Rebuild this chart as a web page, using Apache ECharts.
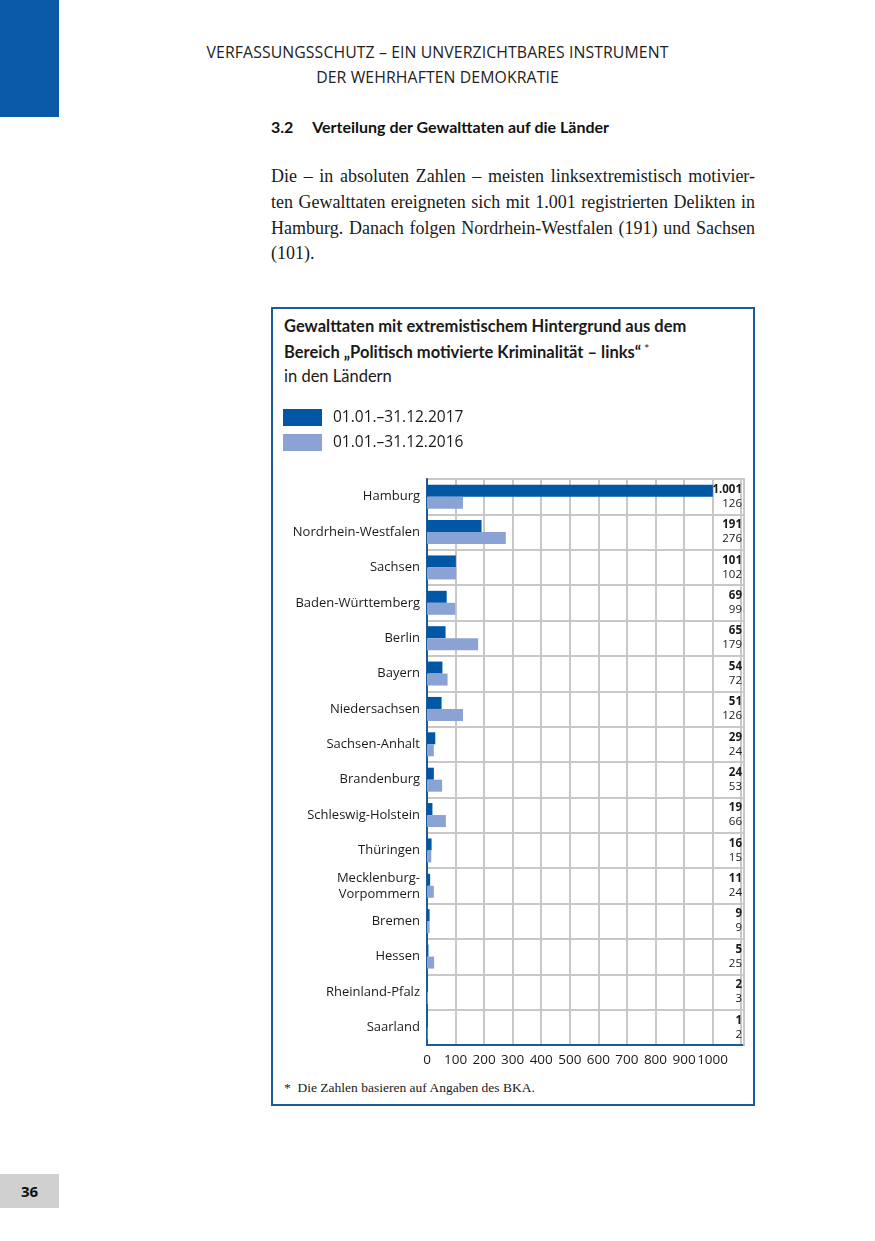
<!DOCTYPE html>
<html>
<head>
<meta charset="utf-8">
<script src="https://cdn.jsdelivr.net/npm/echarts@6/dist/echarts.min.js"></script>
<style>
  html, body { margin:0; padding:0; background:#fff; }
  body { width:875px; height:1241px; position:relative; overflow:hidden; font-family:"Open Sans", "Noto Sans", sans-serif; color:#1a1a1a; }
  .abs { position:absolute; }
  #bluebar { left:0; top:0; width:59px; height:117px; background:#0a5aa8; }
  .hdr { left:0; width:875px; text-align:center; font-family:"Open Sans", sans-serif; font-size:15.8px; letter-spacing:0.1px; color:#222; }
  #sub { left:271px; top:117px; font-family:Lato, sans-serif; font-size:16px; font-weight:bold; color:#111; }
  .para { left:271px; width:484px; font-family:"Liberation Serif", serif; font-size:18px; color:#1a1a1a; text-align:justify; text-align-last:justify; white-space:nowrap; }
  #box { left:271px; top:307px; width:480px; height:795px; border:2px solid #1d5a96; }
  #chart { left:0; top:0; width:875px; height:1241px; }
  #page { left:0; top:1174px; width:59px; height:34px; background:#d0d0d0; font-weight:bold; font-size:15px; text-align:center; line-height:34px; color:#111; }
  .ttl { left:284px; font-family:Lato, sans-serif; font-size:16.5px; color:#1a1a1a; }
  #foot { left:284px; top:1080px; font-family:"Liberation Serif", serif; font-size:13.5px; color:#1a1a1a; }
  .star { font-size:12px; font-weight:normal; position:relative; top:-5px; }
</style>
</head>
<body>
<div id="bluebar" class="abs"></div>
<div class="abs hdr" style="top:41px;">VERFASSUNGSSCHUTZ – EIN UNVERZICHTBARES INSTRUMENT</div>
<div class="abs hdr" style="top:66px;">DER WEHRHAFTEN DEMOKRATIE</div>
<div id="sub" class="abs">3.2&nbsp;&nbsp;&nbsp;&nbsp;&nbsp;Verteilung der Gewalttaten auf die Länder</div>
<div class="abs para" style="top:166px;">Die – in absoluten Zahlen – meisten linksextremistisch motivier-</div>
<div class="abs para" style="top:192px;">ten Gewalttaten ereigneten sich mit 1.001 registrierten Delikten in</div>
<div class="abs para" style="top:218px;">Hamburg. Danach folgen Nordrhein-Westfalen (191) und Sachsen</div>
<div class="abs para" style="top:243px; text-align-last:left;">(101).</div>
<div id="box" class="abs"></div>
<div class="abs ttl" style="top:316px; font-weight:bold;">Gewalttaten mit extremistischem Hintergrund aus dem</div>
<div class="abs ttl" style="top:342px; font-weight:bold;">Bereich „Politisch motivierte Kriminalität – links“<span class="star">&nbsp;*</span></div>
<div class="abs ttl" style="top:366px;">in den Ländern</div>
<div id="foot" class="abs">*&nbsp; Die Zahlen basieren auf Angaben des BKA.</div>
<div id="page" class="abs">36</div>
<div id="chart" class="abs"></div>
<script>
const categories = ["Hamburg","Nordrhein-Westfalen","Sachsen","Baden-Württemberg","Berlin","Bayern","Niedersachsen","Sachsen-Anhalt","Brandenburg","Schleswig-Holstein","Thüringen","Mecklenburg-\nVorpommern","Bremen","Hessen","Rheinland-Pfalz","Saarland"];
const values2017 = [1001,191,101,69,65,54,51,29,24,19,16,11,9,5,2,1];
const values2016 = [126,276,102,99,179,72,126,24,53,66,15,24,9,25,3,2];
const seriesNames = ["01.01.–31.12.2017","01.01.–31.12.2016"];
const xTicks = [0,100,200,300,400,500,600,700,800,900,1000];

function fmt(v){ return String(v).replace(/\B(?=(\d{3})+(?!\d))/g, "."); }

const chart = echarts.init(document.getElementById('chart'), null, {renderer:'canvas'});
const gridCol = '#c8c8c8';
const axisCol = '#1d5a96';
chart.setOption({
  animation:false,
  textStyle:{fontFamily:'"Open Sans", "Noto Sans", sans-serif'},
  legend:{
    orient:'vertical', left:283, top:409, itemWidth:39, itemHeight:17, itemGap:8, padding:0,
    icon:'rect', selectedMode:false,
    textStyle:{fontSize:15.5, color:'#1a1a1a', padding:[3,0,0,6]},
    data:seriesNames
  },
  grid:{left:427, right:131, top:479, bottom:196, containLabel:false},
  xAxis:{
    type:'value', min:0, max:1110, interval:100,
    axisLine:{show:true, lineStyle:{color:axisCol, width:2}},
    axisTick:{show:false},
    splitLine:{show:true, lineStyle:{color:gridCol, width:2}},
    axisLabel:{fontSize:13.5, color:'#1a1a1a', margin:8, showMaxLabel:false,
      formatter:function(v){ return xTicks.indexOf(v) >= 0 ? String(v) : ''; }}
  },
  yAxis:[{
    type:'category', data:categories, inverse:true,
    axisLine:{show:true, lineStyle:{color:axisCol, width:2}},
    axisTick:{show:false},
    splitLine:{show:true, lineStyle:{color:gridCol, width:2}},
    axisLabel:{fontSize:13, color:'#1a1a1a', margin:7, lineHeight:16, align:'right'}
  },{
    type:'category', data:categories, inverse:true, position:'right', zlevel:1, z:10,
    axisLine:{show:true, lineStyle:{color:gridCol, width:2}},
    axisTick:{show:false},
    axisLabel:{inside:true, margin:2, align:'right',
      formatter:function(v, i){ return '{a|' + fmt(values2017[i]) + '}\n{b|' + fmt(values2016[i]) + '}'; },
      rich:{
        a:{fontSize:11.5, fontWeight:'bold', color:'#1a1a1a', lineHeight:14, align:'right'},
        b:{fontSize:11.5, color:'#1a1a1a', lineHeight:14, align:'right'}
      }
    }
  }],
  series:[{
    name:seriesNames[0], type:'bar', data:values2017, barWidth:12, barGap:'0%',
    itemStyle:{color:'#0057a6'}
  },{
    name:seriesNames[1], type:'bar', data:values2016, barWidth:12, barGap:'0%',
    itemStyle:{color:'#8aa3d4'}
  }]
});
</script>
</body>
</html>
